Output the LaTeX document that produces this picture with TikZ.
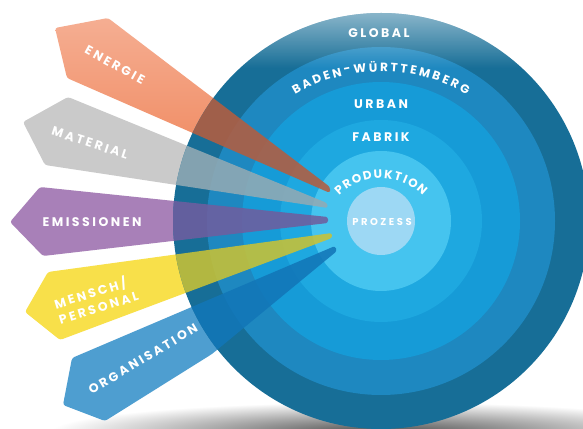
\documentclass[tikz,border=0pt]{standalone}
\usepackage{fontspec}
\setmainfont{Poppins}
\usetikzlibrary{fadings}
\definecolor{cglobal}{HTML}{176E97}
\definecolor{cbw}{HTML}{1E88C0}
\definecolor{curban}{HTML}{169BD7}
\definecolor{cfabrik}{HTML}{1EA8E0}
\definecolor{cprod}{HTML}{45C4EF}
\definecolor{cproz}{HTML}{9DD8F4}
\definecolor{energie}{HTML}{EF8256}
\definecolor{energieL}{HTML}{F5AE92}
\definecolor{material}{HTML}{CACACA}
\definecolor{emission}{HTML}{A880B8}
\definecolor{mensch}{HTML}{F8E04A}
\definecolor{orga}{HTML}{4E9ED0}
\definecolor{eIn}{HTML}{B35D40}
\definecolor{mIn}{HTML}{92AAB4}
\definecolor{emIn}{HTML}{6E5E9F}
\definecolor{meIn}{HTML}{C8C236}
\definecolor{oIn}{HTML}{1276B8}
\tikzfading[name=topfade, top color=transparent!50, bottom color=transparent!100]
\newcommand\energiepath{(55,400) -- (108,410) -- (330,241) -- (330,235) -- (67,350) -- cycle}
\newcommand\materialpath{(23,306) -- (68,331) -- (327,225) -- (328,220) -- (45,263) -- cycle}
\newcommand\emissionpath{(10,206) -- (40,241) -- (328,211) -- (328,205) -- (43,172) -- cycle}
\newcommand\menschpath{(25,116) -- (48,156) -- (332,195) -- (332,190) -- (60,88) -- cycle}
\newcommand\orgapath{(63,23) -- (72,70) -- (335,182) -- (337,177) -- (212,74) -- (105,7) -- cycle}
\newcommand\curvfont{\bfseries\fontsize{12}{14}\selectfont}
% #1 name prefix, #2 centre, #3 radius, #4 middle angle, #5 tracking, #6 letters
\newcommand\arclabel[6]{%
  \begingroup\curvfont
  \gdef\arctot{0}%
  \foreach \ch in {#6}{\pgfmathwidth{"\ch"}\pgfmathparse{\arctot+\pgfmathresult+#5}\xdef\arctot{\pgfmathresult}}%
  \pgfmathparse{\arctot-#5}\xdef\arctot{\pgfmathresult}%
  \gdef\arcpos{0}%
  \foreach \ch [count=\i] in {#6}{%
    \pgfmathwidth{"\ch"}\let\arcw\pgfmathresult
    \pgfmathparse{#4+(\arctot/2-\arcpos-\arcw/2)/#3*180/pi}\let\arca\pgfmathresult
    \path #2 ++(\arca:#3) node[curv, rotate=\arca-90] (#1\i) {\ch};
    \pgfmathparse{\arcpos+\arcw+#5}\xdef\arcpos{\pgfmathresult}%
  }%
  \endgroup}
\begin{document}
\begin{tikzpicture}[x=1pt,y=1pt,
  lbl/.style={text=white, inner sep=0pt, font=\bfseries\fontsize{12.5}{16}\selectfont\addfontfeature{LetterSpace=20}},
  small/.style={text=white, inner sep=0pt, font=\bfseries\fontsize{10}{12}\selectfont\addfontfeature{LetterSpace=25}},
  curv/.style={text=white, inner sep=0pt, font=\curvfont},
  tagshape/.style={rounded corners=2.5pt},
  beam/.style={rounded corners=2.5pt, opacity=0.88}]
\useasboundingbox (0,0) rectangle (583,428);
\fill[white] (0,0) rectangle (583,428);
% shadow under the disc
\shade[inner color=black!70, outer color=white] (380,-4) ellipse (330 and 30);
% tags (opaque, outside part)
\shade[tagshape, top color=energieL, middle color=energie, bottom color=energie] \energiepath;
\fill[tagshape, material] \materialpath;
\fill[tagshape, emission] \emissionpath;
\fill[tagshape, mensch] \menschpath;
\fill[tagshape, orga] \orgapath;
% disc
\coordinate (c) at (381,207);
\fill[cglobal] (c) circle (208);
\fill[cbw] (c) circle (174);
\fill[curban] (c) circle (139);
\fill[cfabrik] (c) circle (101);
\fill[cprod] (c) circle (70);
\fill[cproz] (c) circle (34);
\begin{scope}
  \clip (c) circle (208);
  \fill[white, path fading=topfade] (150,360) rectangle (600,416);
  % beams inside the disc
  \fill[beam, eIn] \energiepath;
  \fill[beam, mIn] \materialpath;
  \fill[beam, emIn] \emissionpath;
  \fill[beam, meIn] \menschpath;
  \fill[beam, oIn] \orgapath;
\end{scope}
% tag labels
\node[lbl, rotate=-29] (tEnergie) at (115,363) {ENERGIE};
\node[lbl, rotate=-18] (tMaterial) at (90,285) {MATERIAL};
\node[lbl] (tEmission) at (92,206) {EMISSIONEN};
\node[lbl, rotate=17, align=left] (tMensch) at (96,129) {MENSCH/\\PERSONAL};
\node[lbl, rotate=31] (tOrga) at (143,69) {ORGANISATION};
% ring labels
\node[lbl] (tGlobal) at (379,395) {GLOBAL};
\node[lbl] (tUrban) at (381,324) {URBAN};
\node[lbl] (tFabrik) at (381,291) {FABRIK};
\node[small] (tProzess) at (382,206) {PROZESS};
\arclabel{bw}{(381,190)}{171}{90}{2.8}{B,A,D,E,N,-,W,Ü,R,T,T,E,M,B,E,R,G}
\arclabel{pr}{(381,191)}{63}{90}{2.2}{P,R,O,D,U,K,T,I,O,N}
\end{tikzpicture}
\end{document}
